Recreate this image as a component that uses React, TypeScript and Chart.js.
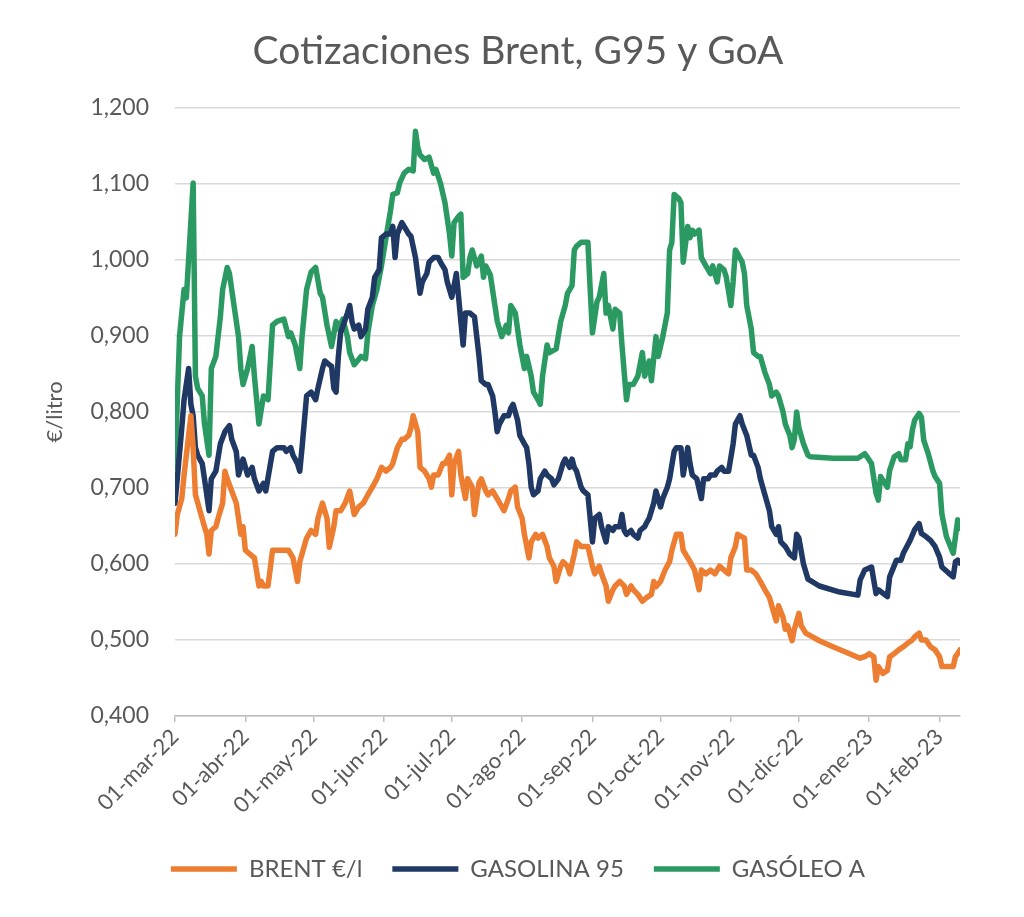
import React, { useEffect, useRef } from "react";
import { Chart, registerables } from "chart.js";

Chart.register(...registerables);

// Day offsets from 01-mar-22 at which each month label sits
const monthDays = [0, 31, 61, 92, 122, 153, 184, 214, 245, 275, 306, 337];
const monthLabels = [
  "01-mar-22", "01-abr-22", "01-may-22", "01-jun-22", "01-jul-22", "01-ago-22",
  "01-sep-22", "01-oct-22", "01-nov-22", "01-dic-22", "01-ene-23", "01-feb-23",
];
const yTicks = [0.4, 0.5, 0.6, 0.7, 0.8, 0.9, 1.0, 1.1, 1.2];

const seriesNames = ["BRENT €/l", "GASOLINA 95", "GASÓLEO A"];
const seriesColors = ["#ED7D31", "#1F3864", "#2A9A62"];

// BRENT €/l (days since 01-mar-22, €/litro)
const brentDays = [0,1,3,4,6,7,8,9,11,13,14,15,16,18,19,21,22,23,25,27,28,29,30,31,33,35,37,38,39,41,43,45,48,50,52,54,55,58,60,62,63,65,67,68,70,71,73,75,77,79,81,83,85,87,89,91,93,95,96,98,100,101,103,104,105,107,108,110,112,113,114,116,118,119,121,122,123,125,126,128,129,131,132,134,135,137,138,140,142,145,147,148,150,151,153,154,156,157,159,160,162,164,165,167,168,170,171,173,174,176,177,179,182,184,185,187,188,190,191,193,194,196,198,199,201,202,204,206,208,210,211,212,214,216,218,219,221,223,224,226,227,229,231,232,234,236,238,240,242,244,245,247,248,251,252,254,256,258,260,262,264,265,266,268,269,270,272,273,275,276,278,281,284,290,302,304,306,308,309,310,312,314,315,317,319,321,323,325,326,328,329,331,333,335,337,338,340,343,344,345,346];
const brentValues = [0.639,0.665,0.686,0.717,0.769,0.795,0.753,0.691,0.67,0.649,0.639,0.613,0.644,0.649,0.66,0.68,0.722,0.712,0.696,0.68,0.66,0.639,0.649,0.618,0.613,0.608,0.571,0.577,0.571,0.571,0.618,0.618,0.618,0.618,0.608,0.577,0.603,0.634,0.644,0.639,0.66,0.68,0.66,0.622,0.649,0.67,0.67,0.68,0.696,0.665,0.675,0.68,0.691,0.701,0.712,0.727,0.722,0.727,0.732,0.753,0.764,0.764,0.769,0.779,0.795,0.774,0.727,0.722,0.712,0.701,0.717,0.717,0.732,0.732,0.743,0.691,0.732,0.748,0.717,0.686,0.712,0.701,0.665,0.707,0.712,0.696,0.691,0.696,0.686,0.67,0.686,0.696,0.701,0.675,0.66,0.639,0.608,0.629,0.639,0.634,0.639,0.623,0.608,0.597,0.577,0.597,0.603,0.597,0.587,0.613,0.629,0.623,0.623,0.597,0.587,0.597,0.587,0.571,0.551,0.566,0.571,0.577,0.571,0.56,0.571,0.566,0.56,0.551,0.556,0.56,0.577,0.57,0.577,0.592,0.603,0.618,0.639,0.639,0.618,0.608,0.603,0.592,0.566,0.592,0.587,0.592,0.587,0.597,0.592,0.587,0.608,0.623,0.639,0.634,0.592,0.592,0.587,0.577,0.566,0.556,0.535,0.525,0.545,0.53,0.514,0.519,0.499,0.514,0.535,0.519,0.509,0.504,0.499,0.491,0.476,0.478,0.482,0.478,0.447,0.465,0.456,0.46,0.478,0.482,0.487,0.491,0.496,0.5,0.504,0.509,0.5,0.5,0.491,0.487,0.478,0.465,0.465,0.465,0.478,0.482,0.487];

// GASOLINA 95
const g95Days = [0,1,3,4,6,7,8,9,10,12,13,15,16,18,20,22,24,25,27,28,30,32,34,35,37,39,40,43,45,48,49,51,52,54,55,56,58,60,62,63,65,66,68,69,70,71,72,73,76,77,78,79,81,82,84,85,87,88,90,91,93,95,96,97,98,100,101,103,104,106,108,109,111,112,114,116,117,119,120,122,123,124,125,126,127,128,130,132,133,134,135,137,138,140,141,142,143,145,147,148,149,151,152,154,155,156,157,158,160,161,163,164,166,167,169,171,172,174,175,176,177,179,180,182,183,184,185,187,188,190,191,193,194,196,197,198,199,201,202,204,205,207,208,209,211,212,214,215,217,218,220,221,223,224,226,227,228,230,232,233,235,236,238,239,241,242,244,246,247,249,250,252,254,255,257,258,260,262,263,265,266,267,269,271,273,274,275,277,279,284,293,301,302,304,307,309,310,314,315,318,320,321,324,326,328,329,331,333,335,337,338,341,343,344,345,346];
const g95Values = [0.68,0.712,0.779,0.816,0.857,0.81,0.795,0.753,0.743,0.732,0.712,0.67,0.712,0.722,0.758,0.774,0.782,0.764,0.748,0.717,0.738,0.717,0.727,0.712,0.696,0.706,0.696,0.748,0.753,0.753,0.748,0.753,0.743,0.732,0.722,0.753,0.821,0.826,0.816,0.831,0.857,0.867,0.862,0.86,0.831,0.826,0.873,0.904,0.93,0.94,0.919,0.909,0.914,0.899,0.909,0.935,0.951,0.977,0.987,1.029,1.034,1.034,1.044,1.003,1.034,1.049,1.044,1.034,1.031,1.003,0.956,0.971,0.982,0.997,1.003,1.003,0.997,0.987,0.971,0.951,0.966,0.982,0.951,0.919,0.888,0.93,0.93,0.925,0.899,0.873,0.841,0.836,0.836,0.821,0.8,0.774,0.784,0.795,0.795,0.805,0.81,0.789,0.769,0.758,0.753,0.732,0.701,0.691,0.696,0.712,0.722,0.717,0.712,0.704,0.712,0.732,0.738,0.727,0.738,0.727,0.722,0.701,0.696,0.691,0.66,0.629,0.66,0.665,0.649,0.629,0.649,0.644,0.649,0.649,0.665,0.644,0.639,0.644,0.639,0.634,0.644,0.649,0.655,0.66,0.68,0.696,0.675,0.686,0.701,0.712,0.748,0.753,0.753,0.717,0.753,0.732,0.717,0.712,0.686,0.712,0.712,0.717,0.717,0.722,0.727,0.722,0.722,0.758,0.784,0.795,0.784,0.769,0.743,0.743,0.727,0.712,0.691,0.67,0.649,0.639,0.649,0.629,0.623,0.613,0.608,0.639,0.634,0.6,0.58,0.571,0.563,0.559,0.579,0.592,0.596,0.561,0.566,0.557,0.583,0.605,0.605,0.614,0.631,0.645,0.653,0.64,0.636,0.631,0.623,0.609,0.596,0.588,0.583,0.603,0.605,0.601];

// GASÓLEO A
const goaDays = [0,2,4,5,8,9,10,12,13,15,16,18,20,21,23,24,26,28,29,30,32,34,35,37,39,41,43,45,48,50,51,53,55,56,58,60,62,64,65,67,69,71,72,74,76,77,79,82,84,85,87,89,91,93,95,96,98,99,101,103,105,106,107,108,110,112,114,115,117,119,121,122,123,125,126,127,129,130,131,133,135,136,137,139,141,142,144,146,147,148,150,152,154,155,157,158,160,161,162,164,165,168,170,172,173,175,176,177,179,182,183,184,186,187,189,190,191,193,194,196,197,199,200,202,204,206,207,209,210,212,213,215,217,218,219,220,222,223,224,226,227,228,229,231,232,234,236,237,239,240,242,243,245,246,247,248,250,251,252,254,255,257,258,260,262,263,265,266,268,269,271,272,273,274,275,277,279,280,290,301,304,305,307,309,310,311,312,314,315,317,319,320,322,323,324,325,326,328,329,330,332,334,335,337,338,340,343,344,345,346];
const goaValues = [0.727,0.899,0.961,0.95,1.101,0.847,0.831,0.821,0.784,0.743,0.857,0.873,0.925,0.961,0.99,0.982,0.94,0.899,0.857,0.836,0.857,0.886,0.847,0.784,0.821,0.816,0.914,0.919,0.922,0.899,0.904,0.888,0.857,0.899,0.961,0.984,0.99,0.956,0.951,0.914,0.886,0.919,0.909,0.922,0.899,0.878,0.862,0.873,0.87,0.904,0.94,0.961,0.992,1.029,1.065,1.086,1.088,1.101,1.114,1.119,1.117,1.169,1.148,1.138,1.132,1.135,1.114,1.119,1.101,1.075,1.034,1.005,1.049,1.057,1.06,0.977,0.982,1.003,1.013,0.992,1.005,0.977,0.992,0.98,0.94,0.92,0.899,0.914,0.904,0.94,0.93,0.888,0.857,0.873,0.847,0.826,0.816,0.81,0.847,0.888,0.878,0.883,0.919,0.94,0.956,0.966,1.013,1.018,1.023,1.023,0.961,0.904,0.945,0.951,0.982,0.93,0.94,0.909,0.935,0.93,0.888,0.816,0.836,0.836,0.847,0.878,0.847,0.867,0.841,0.899,0.873,0.899,0.93,1.013,1.023,1.086,1.081,1.075,0.997,1.044,1.029,1.039,1.034,1.039,1.003,0.992,0.982,0.992,0.971,0.992,0.987,0.977,0.94,0.971,1.013,1.008,0.997,0.982,0.94,0.909,0.878,0.873,0.873,0.852,0.836,0.821,0.826,0.821,0.8,0.784,0.769,0.753,0.764,0.8,0.779,0.758,0.743,0.741,0.739,0.739,0.745,0.741,0.732,0.693,0.684,0.715,0.71,0.701,0.723,0.741,0.745,0.737,0.737,0.758,0.754,0.776,0.789,0.798,0.793,0.763,0.745,0.723,0.715,0.706,0.666,0.636,0.614,0.636,0.658,0.647];

const FONT = "Lato";
const TEXT = "#595959";

function toPoints(days: number[], values: number[]) {
  return days.map((d, i) => ({ x: d, y: values[i] }));
}

export default function App() {
  const ref = useRef<HTMLCanvasElement | null>(null);

  useEffect(() => {
    if (!ref.current) return;
    const sets = [
      [brentDays, brentValues],
      [g95Days, g95Values],
      [goaDays, goaValues],
    ];
    const chart = new Chart(ref.current, {
      type: "line",
      data: {
        datasets: sets.map(([d, v], i) => ({
          label: seriesNames[i],
          data: toPoints(d as number[], v as number[]),
          borderColor: seriesColors[i],
          backgroundColor: seriesColors[i],
          borderWidth: 5.5,
          pointRadius: 0,
          tension: 0,
          borderJoinStyle: "round",
          borderCapStyle: "round",
          fill: false,
        })),
      },
      options: {
        responsive: false,
        animation: false,
        devicePixelRatio: 1,
        layout: { padding: { left: 76, right: 64, top: 0, bottom: 26 } },
        plugins: {
          tooltip: { enabled: false },
          title: {
            display: true,
            text: "Cotizaciones Brent, G95 y GoA",
            color: TEXT,
            font: { family: FONT, size: 39, weight: "normal" },
            padding: { top: 28, bottom: 33 },
          },
          legend: {
            position: "bottom",
            labels: {
              color: TEXT,
              font: { family: FONT, size: 24 },
              usePointStyle: true,
              pointStyle: "line",
              pointStyleWidth: 66,
              padding: 30,
            },
          },
        },
        scales: {
          x: {
            type: "linear",
            min: 0,
            max: 346,
            afterBuildTicks: (scale: any) => {
              scale.ticks = monthDays.map((v) => ({ value: v }));
            },
            afterFit: (scale: any) => {
              scale.height = 111;
            },
            grid: {
              drawOnChartArea: false,
              drawTicks: true,
              tickLength: 6,
              color: "#BFBFBF",
              lineWidth: 1.5,
            },
            border: { display: true, color: "#BFBFBF", width: 1.5 },
            ticks: {
              autoSkip: false,
              maxRotation: 45,
              minRotation: 45,
              padding: 2,
              color: TEXT,
              font: { family: FONT, size: 22 },
              callback: (_v: any, i: number) => monthLabels[i],
            },
          },
          y: {
            min: 0.4,
            max: 1.2,
            afterBuildTicks: (scale: any) => {
              scale.ticks = yTicks.map((v) => ({ value: v }));
            },
            afterFit: (scale: any) => {
              scale.width = 99;
            },
            grid: { color: "#D9D9D9", lineWidth: 1.5, drawTicks: false },
            border: { display: false },
            ticks: {
              padding: 26,
              color: TEXT,
              font: { family: FONT, size: 23 },
              callback: (v: any) => Number(v).toFixed(3).replace(".", ","),
            },
            title: {
              display: true,
              text: "€/litro",
              color: TEXT,
              font: { family: FONT, size: 22 },
              padding: { top: -34, bottom: 0 },
            },
          },
        },
      },
    });
    return () => chart.destroy();
  }, []);

  return (
    <div style={{ position: "absolute", left: 0, top: 0, width: 1024, height: 917, background: "#fff" }}>
      <canvas ref={ref} width={1024} height={917} />
    </div>
  );
}
